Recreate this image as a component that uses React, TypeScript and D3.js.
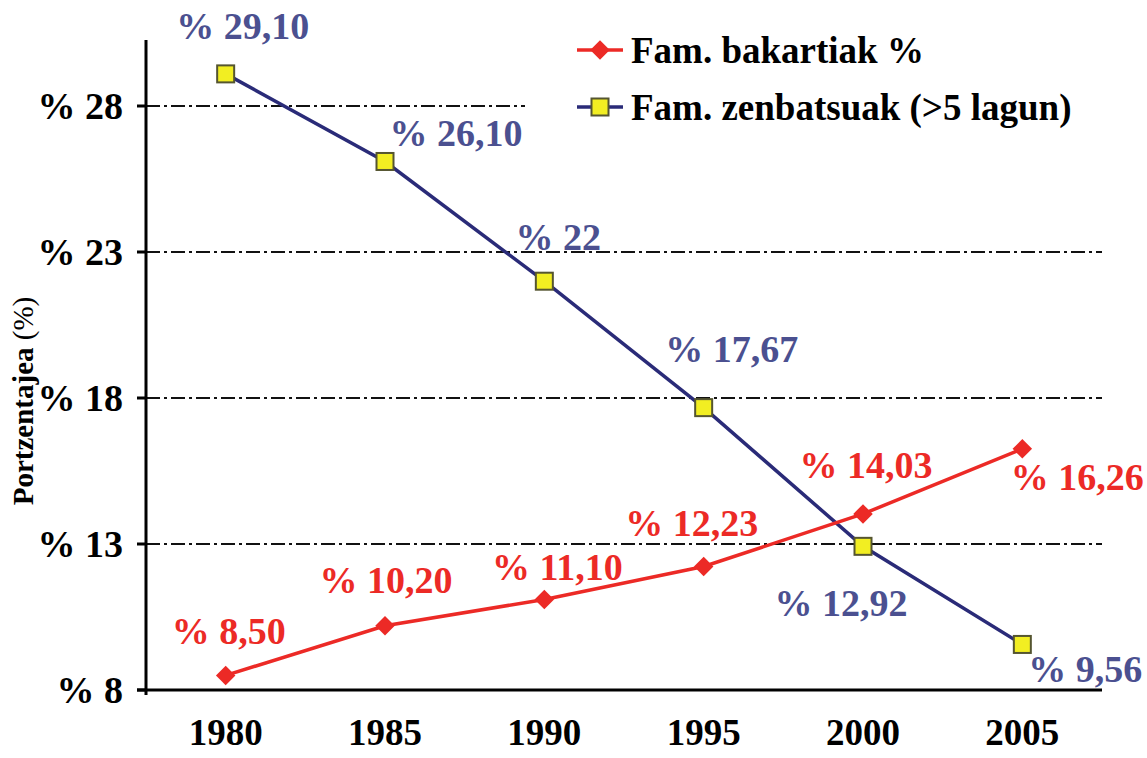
import * as d3 from "d3";
import React from "react";

const years = ["1980", "1985", "1990", "1995", "2000", "2005"];
const bakartiak = [8.5, 10.2, 11.1, 12.23, 14.03, 16.26];
const zenbatsuak = [29.1, 26.1, 22, 17.67, 12.92, 9.56];
const yTicks = [8, 13, 18, 23, 28];
const bakartiakLabels = ["% 8,50", "% 10,20", "% 11,10", "% 12,23", "% 14,03", "% 16,26"];
const zenbatsuakLabels = ["% 29,10", "% 26,10", "% 22", "% 17,67", "% 12,92", "% 9,56"];

// label offsets relative to the point (layout only)
const redOffsets = [[3, -45], [1, -46], [13, -33], [-12, -44], [3, -49], [55, 28]];
const blueOffsets = [[17, -48], [71, -29], [14, -45], [28, -59], [-22, 56], [63, 24]];

const W = 1147;
const H = 758;
const axisLeft = 146;
const axisRight = 1102;
const axisBottom = 690;
const axisTop = 40;

const RED = "#ec2a26";
const NAVY = "#2a2b78";
const BLUE_TXT = "#4b5090";
const YELLOW = "#f2ee22";
const font = "'Liberation Serif', 'Times New Roman', serif";

export default function App() {
  const x = d3.scalePoint<string>().domain(years).range([axisLeft, axisRight]).padding(0.5);
  const y = d3.scaleLinear().domain([8, 28]).range([axisBottom, 106]);

  const line = d3
    .line<number>()
    .x((_, i) => x(years[i]) as number)
    .y((d) => y(d));

  const diamond = d3.symbol(d3.symbolSquare, 190)() as string;

  return (
    <svg width={W} height={H} style={{ position: "absolute", left: 0, top: 0, background: "#fff" }}>
      {/* grid */}
      {yTicks.slice(1).map((t) => (
        <line
          key={t}
          x1={axisLeft}
          x2={t === 28 ? 525 : axisRight}
          y1={y(t)}
          y2={y(t)}
          stroke="#111"
          strokeWidth={2}
          strokeDasharray="14 4 3 4"
        />
      ))}

      {/* axes */}
      <line x1={axisLeft} x2={axisLeft} y1={axisTop} y2={axisBottom + 5} stroke="#000" strokeWidth={3} />
      <line x1={axisLeft - 9} x2={axisRight} y1={axisBottom} y2={axisBottom} stroke="#000" strokeWidth={3} />
      {yTicks.map((t) => (
        <g key={t}>
          <line x1={axisLeft - 9} x2={axisLeft} y1={y(t)} y2={y(t)} stroke="#000" strokeWidth={3} />
          <text
            x={123}
            y={y(t)}
            dy="0.35em"
            textAnchor="end"
            fontFamily={font}
            fontWeight="bold"
            fontSize={38}
          >
            {"% " + t}
          </text>
        </g>
      ))}
      {years.map((yr) => (
        <text
          key={yr}
          x={x(yr)}
          y={745}
          textAnchor="middle"
          fontFamily={font}
          fontWeight="bold"
          fontSize={37}
        >
          {yr}
        </text>
      ))}
      <text
        transform={`translate(33, 401) rotate(-90)`}
        textAnchor="middle"
        fontFamily={font}
        fontSize={29}
      >
        <tspan fontWeight="bold">Portzentajea </tspan>
        <tspan>(%)</tspan>
      </text>

      {/* lines */}
      <path d={line(zenbatsuak) as string} fill="none" stroke={NAVY} strokeWidth={3.5} />
      <path d={line(bakartiak) as string} fill="none" stroke={RED} strokeWidth={3.5} />

      {bakartiak.map((v, i) => (
        <path key={i} d={diamond} transform={`translate(${x(years[i])},${y(v)}) rotate(45)`} fill={RED} />
      ))}
      {zenbatsuak.map((v, i) => (
        <rect
          key={i}
          x={(x(years[i]) as number) - 8.5}
          y={y(v) - 8.5}
          width={17}
          height={17}
          fill={YELLOW}
          stroke="#555530"
          strokeWidth={2}
        />
      ))}

      {/* value labels */}
      {bakartiak.map((v, i) => (
        <text
          key={i}
          x={(x(years[i]) as number) + redOffsets[i][0]}
          y={y(v) + redOffsets[i][1]}
          dy="0.35em"
          textAnchor="middle"
          fontFamily={font}
          fontWeight="bold"
          fontSize={38}
          fill={RED}
        >
          {bakartiakLabels[i]}
        </text>
      ))}
      {zenbatsuak.map((v, i) => (
        <text
          key={i}
          x={(x(years[i]) as number) + blueOffsets[i][0]}
          y={y(v) + blueOffsets[i][1]}
          dy="0.35em"
          textAnchor="middle"
          fontFamily={font}
          fontWeight="bold"
          fontSize={38}
          fill={BLUE_TXT}
        >
          {zenbatsuakLabels[i]}
        </text>
      ))}

      {/* legend */}
      <g fontFamily={font} fontWeight="bold" fontSize={37}>
        <line x1={577} x2={623} y1={50} y2={50} stroke={RED} strokeWidth={3.5} />
        <path d={diamond} transform="translate(600,50) rotate(45)" fill={RED} />
        <text x={631} y={50} dy="0.35em">Fam. bakartiak %</text>
        <line x1={577} x2={623} y1={107} y2={107} stroke={NAVY} strokeWidth={3.5} />
        <rect x={591.5} y={98.5} width={17} height={17} fill={YELLOW} stroke="#555530" strokeWidth={2} />
        <text x={631} y={107} dy="0.35em">Fam. zenbatsuak (&gt;5 lagun)</text>
      </g>
    </svg>
  );
}
